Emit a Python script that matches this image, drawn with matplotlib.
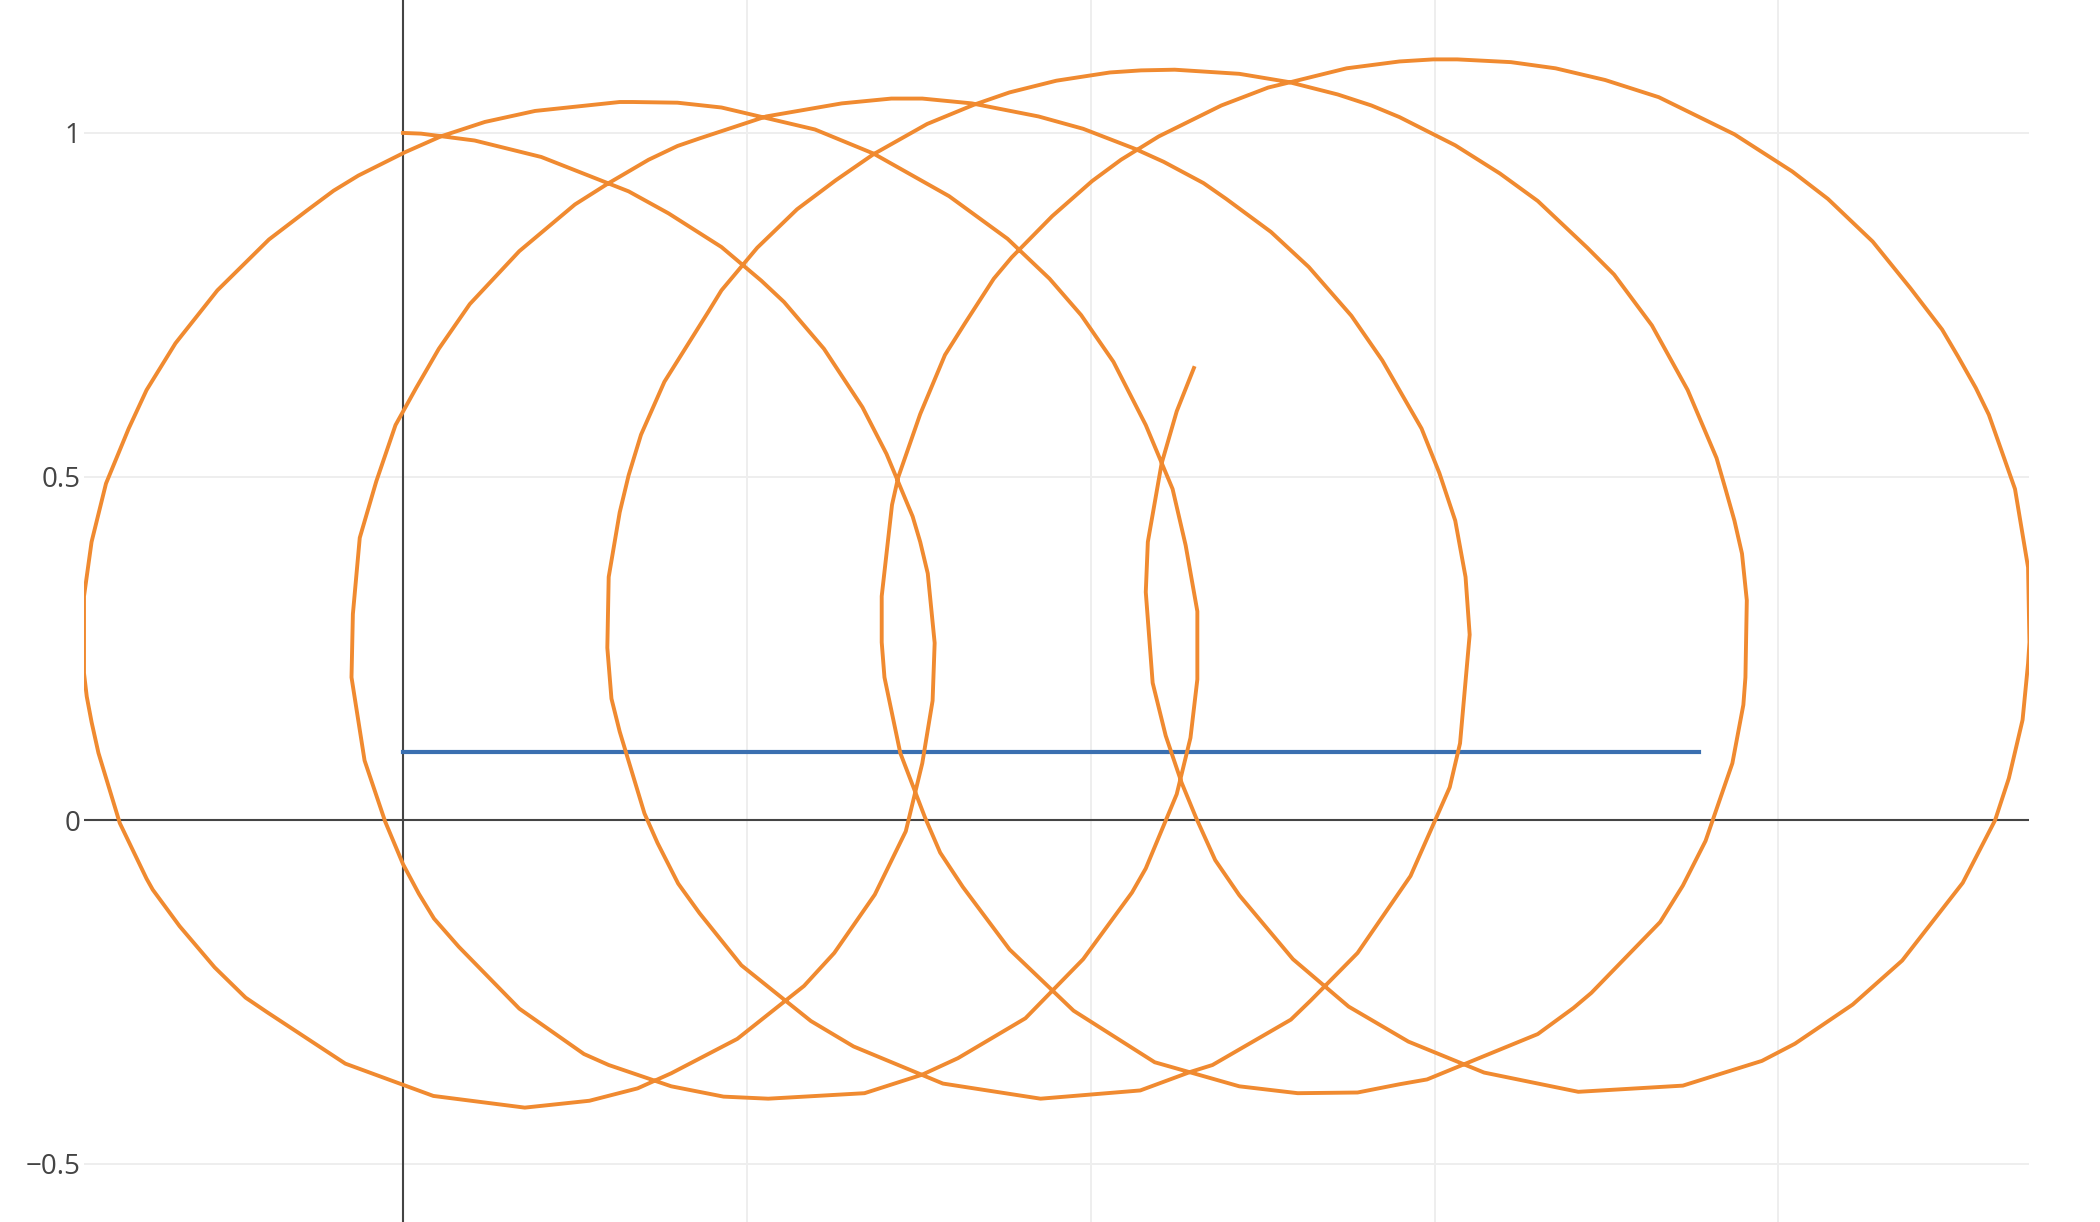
import matplotlib
matplotlib.use("Agg")
import matplotlib.pyplot as plt

# orange trace (in drawing order)
orange_x = [
    0.000, 0.026, 0.104, 0.201, 0.328, 0.386, 0.463, 0.521, 0.554, 0.612,
    0.668, 0.703, 0.741, 0.752, 0.763, 0.773, 0.770, 0.755, 0.731, 0.686,
    0.627, 0.583, 0.486, 0.390, 0.341, 0.271, 0.177, 0.044, -0.084, -0.198,
    -0.229, -0.274, -0.325, -0.364, -0.373, -0.412, -0.443, -0.453, -0.460, -0.464,
    -0.464, -0.453, -0.432, -0.399, -0.373, -0.331, -0.270, -0.195, -0.140, -0.101,
    -0.065, 0.003, 0.055, 0.119, 0.192, 0.315, 0.334, 0.399, 0.463, 0.599,
    0.684, 0.794, 0.879, 0.940, 0.986, 1.033, 1.080, 1.119, 1.138, 1.155,
    1.155, 1.145, 1.125, 1.080, 1.060, 0.989, 0.905, 0.807, 0.755, 0.671,
    0.531, 0.466, 0.390, 0.299, 0.263, 0.169, 0.081, 0.045, 0.023, 0.000,
    -0.026, -0.056, -0.075, -0.073, -0.063, -0.039, -0.011, 0.019, 0.052, 0.097,
    0.169, 0.250, 0.299, 0.357, 0.399, 0.431, 0.528, 0.586, 0.638, 0.710,
    0.755, 0.827, 0.924, 0.989, 1.064, 1.106, 1.164, 1.197, 1.262, 1.317,
    1.379, 1.424, 1.481, 1.507, 1.530, 1.545, 1.551, 1.537, 1.522, 1.465,
    1.388, 1.320, 1.291, 1.177, 1.145, 1.072, 0.927, 0.785, 0.655, 0.593,
    0.492, 0.431, 0.400, 0.370, 0.351, 0.315, 0.303, 0.297, 0.299, 0.315,
    0.328, 0.346, 0.380, 0.444, 0.463, 0.515, 0.573, 0.629, 0.684, 0.762,
    0.830, 0.882, 0.950, 1.028, 1.073, 1.122, 1.216, 1.288, 1.359, 1.408,
    1.449, 1.530, 1.595, 1.650, 1.722, 1.761, 1.816, 1.868, 1.910, 1.923,
    1.936, 1.947, 1.954, 1.952, 1.949, 1.933, 1.894, 1.861, 1.828, 1.728,
    1.702, 1.650, 1.489, 1.449, 1.388, 1.301, 1.216, 1.093, 0.975, 0.882,
    0.814, 0.781, 0.759, 0.723, 0.700, 0.696, 0.696, 0.711, 0.720, 0.752,
    0.788, 0.817, 0.859, 0.885, 0.944, 1.002, 1.044, 1.099, 1.190, 1.258,
    1.291, 1.372, 1.449, 1.498, 1.533, 1.611, 1.676, 1.748, 1.826, 1.936,
    2.020, 2.072, 2.137, 2.192, 2.238, 2.261, 2.287, 2.306, 2.344, 2.363,
    2.365, 2.363, 2.355, 2.335, 2.315, 2.268, 2.180, 2.108, 2.024, 1.976,
    1.861, 1.709, 1.572, 1.462, 1.375, 1.294, 1.216, 1.181, 1.153, 1.132,
    1.109, 1.090, 1.080, 1.083, 1.103, 1.125, 1.150,
]
orange_y = [
    1.000, 0.999, 0.989, 0.965, 0.915, 0.883, 0.834, 0.785, 0.754, 0.686,
    0.601, 0.533, 0.442, 0.405, 0.359, 0.258, 0.174, 0.083, -0.016, -0.108,
    -0.193, -0.241, -0.318, -0.368, -0.390, -0.408, -0.418, -0.401, -0.354, -0.279,
    -0.258, -0.214, -0.154, -0.101, -0.085, -0.004, 0.098, 0.143, 0.180, 0.214,
    0.326, 0.405, 0.490, 0.570, 0.626, 0.694, 0.771, 0.845, 0.887, 0.916,
    0.938, 0.972, 0.995, 1.016, 1.032, 1.045, 1.045, 1.044, 1.037, 1.005,
    0.970, 0.908, 0.846, 0.788, 0.735, 0.667, 0.575, 0.482, 0.400, 0.304,
    0.205, 0.120, 0.038, -0.070, -0.105, -0.202, -0.288, -0.346, -0.370, -0.397,
    -0.405, -0.402, -0.387, -0.356, -0.340, -0.274, -0.184, -0.143, -0.107, -0.064,
    -0.002, 0.087, 0.208, 0.300, 0.411, 0.493, 0.575, 0.629, 0.686, 0.751,
    0.828, 0.896, 0.927, 0.961, 0.981, 0.992, 1.024, 1.034, 1.043, 1.050,
    1.050, 1.043, 1.024, 1.006, 0.977, 0.958, 0.927, 0.904, 0.856, 0.805,
    0.734, 0.669, 0.570, 0.505, 0.436, 0.354, 0.270, 0.112, 0.048, -0.081,
    -0.193, -0.262, -0.290, -0.356, -0.366, -0.393, -0.405, -0.383, -0.329, -0.292,
    -0.211, -0.135, -0.092, -0.033, 0.010, 0.129, 0.177, 0.251, 0.354, 0.448,
    0.502, 0.561, 0.638, 0.740, 0.771, 0.833, 0.889, 0.931, 0.969, 1.013,
    1.041, 1.059, 1.076, 1.088, 1.091, 1.092, 1.086, 1.074, 1.056, 1.040,
    1.023, 0.982, 0.941, 0.901, 0.833, 0.794, 0.720, 0.626, 0.527, 0.482,
    0.436, 0.388, 0.320, 0.208, 0.168, 0.083, -0.030, -0.095, -0.148, -0.251,
    -0.273, -0.311, -0.377, -0.384, -0.396, -0.397, -0.387, -0.352, -0.277, -0.188,
    -0.097, -0.047, 0.004, 0.098, 0.208, 0.259, 0.326, 0.459, 0.499, 0.591,
    0.677, 0.723, 0.788, 0.819, 0.879, 0.930, 0.961, 0.995, 1.040, 1.066,
    1.074, 1.094, 1.104, 1.107, 1.107, 1.103, 1.094, 1.077, 1.052, 0.998,
    0.944, 0.904, 0.842, 0.774, 0.714, 0.675, 0.629, 0.590, 0.482, 0.368,
    0.259, 0.228, 0.146, 0.061, 0.000, -0.091, -0.204, -0.268, -0.325, -0.350,
    -0.386, -0.395, -0.367, -0.322, -0.271, -0.202, -0.109, -0.058, 0.004, 0.055,
    0.123, 0.200, 0.332, 0.405, 0.519, 0.595, 0.658,
]

# blue trace
blue_x = [0.0, 1.885]
blue_y = [0.1, 0.1]

y_ticks = [-0.5, 0, 0.5, 1]
y_labels = ["\u22120.5", "0", "0.5", "1"]
x_grid = [0.5, 1.0, 1.5, 2.0]

plt.rcParams["font.family"] = ["Open Sans", "DejaVu Sans"]

fig = plt.figure(figsize=(21, 12.22), dpi=100)
ax = fig.add_axes([0.04, 0.0, 0.9264, 1.0])

ax.set_xlim(min(orange_x), max(orange_x))
ax.set_ylim(-0.5844, 1.1934)

ax.set_xticks(x_grid)
ax.set_xticklabels([])
ax.set_yticks(y_ticks)
ax.set_yticklabels(y_labels)
ax.tick_params(axis="both", length=0, labelsize=20, colors="#444444", pad=2.4)
ax.grid(True, color="#eeeeee", linewidth=1.4, zorder=0)
ax.set_axisbelow(True)
for s in ax.spines.values():
    s.set_visible(False)

# zero lines
ax.axhline(0, color="#444444", linewidth=1.5, zorder=1)
ax.axvline(0, color="#444444", linewidth=1.5, zorder=1)

ax.plot(blue_x, blue_y, color="#3a6fb0", linewidth=3, zorder=2)
ax.plot(orange_x, orange_y, color="#f08a30", linewidth=2.8, zorder=3)

fig.savefig("out.png", dpi=100)
